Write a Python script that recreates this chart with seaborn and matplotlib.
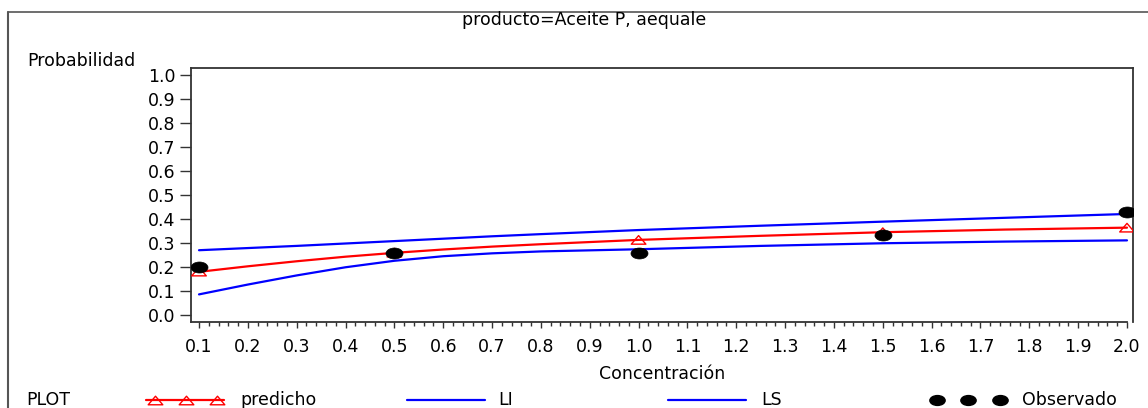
import numpy as np
import matplotlib
matplotlib.use("Agg")
import matplotlib.pyplot as plt
from matplotlib.lines import Line2D
from matplotlib.path import Path
from matplotlib.transforms import Affine2D
from matplotlib.ticker import MultipleLocator, FormatStrFormatter
import seaborn as sns

# === Datos ===
titulo = "producto=Aceite P, aequale"

conc_curva = [0.1, 0.2, 0.3, 0.4, 0.5, 0.6, 0.7, 0.8, 1.0, 1.25, 1.5, 1.75, 2.0]
predicho_curva = [0.180, 0.203, 0.224, 0.243, 0.259, 0.273, 0.285, 0.295, 0.313,
                  0.330, 0.345, 0.356, 0.364]
li_curva = [0.086, 0.127, 0.165, 0.199, 0.226, 0.245, 0.257, 0.265, 0.274,
            0.288, 0.299, 0.306, 0.311]
ls_curva = [0.270, 0.279, 0.288, 0.298, 0.308, 0.318, 0.328, 0.337, 0.354,
            0.372, 0.389, 0.405, 0.421]

conc_obs = [0.1, 0.5, 1.0, 1.5, 2.0]
predicho_pts = [0.181, 0.260, 0.313, 0.345, 0.364]
observado = [0.200, 0.260, 0.257, 0.333, 0.428]

y_ticks = [0.0, 0.1, 0.2, 0.3, 0.4, 0.5, 0.6, 0.7, 0.8, 0.9, 1.0]
x_ticks = [0.1, 0.2, 0.3, 0.4, 0.5, 0.6, 0.7, 0.8, 0.9, 1.0,
           1.1, 1.2, 1.3, 1.4, 1.5, 1.6, 1.7, 1.8, 1.9, 2.0]

# === Configuracion visual ===
sns.set_theme(style="white")
plt.rcParams['font.family'] = ['DejaVu Sans']
plt.rcParams['text.color'] = 'black'
FS = 12.5
W, H = 1148, 408

def fx(px):
    return px / W

def fy(py):
    return 1 - py / H

# marcadores "estirados" como en la salida SAS
tri = Path([(-1.7, -1), (1.7, -1), (0, 1), (-1.7, -1)],
           [Path.MOVETO, Path.LINETO, Path.LINETO, Path.CLOSEPOLY])
elipse = Path.unit_circle().transformed(Affine2D().scale(1.55, 1.0))

fig = plt.figure(figsize=(W / 100, H / 100), dpi=100)
ax = fig.add_axes([fx(191), fy(322), (1133 - 191) / W, (322 - 68) / H])

sns.lineplot(x=conc_curva, y=ls_curva, color="blue", lw=1.6, ax=ax)
sns.lineplot(x=conc_curva, y=li_curva, color="blue", lw=1.6, ax=ax)
sns.lineplot(x=conc_curva, y=predicho_curva, color="red", lw=1.6, ax=ax)
sns.scatterplot(x=conc_obs, y=predicho_pts, marker=tri, s=110, color="red",
                facecolors="none", edgecolor="red", linewidth=1, ax=ax, zorder=3)
sns.scatterplot(x=conc_obs, y=observado, marker=elipse, s=150, color="black",
                edgecolor="black", linewidth=0.5, ax=ax, zorder=4)

ax.set_xlim(0.0836, 2.0123)
ax.set_ylim(-0.029, 1.029)
ax.set_xticks(x_ticks)
ax.set_yticks(y_ticks)
ax.xaxis.set_major_formatter(FormatStrFormatter('%.1f'))
ax.yaxis.set_major_formatter(FormatStrFormatter('%.1f'))
ax.xaxis.set_minor_locator(MultipleLocator(0.02))

for s in ax.spines.values():
    s.set_visible(True)
    s.set_color("#333333")
    s.set_linewidth(1.3)
ax.spines['bottom'].set_bounds(0.0836, 2.0)

ax.tick_params(axis='y', which='major', left=True, direction='out', length=8,
               width=1, color="#333333", pad=3, labelsize=FS, labelcolor="black")
ax.tick_params(axis='x', which='major', bottom=True, direction='out', length=4.5,
               width=1, color="#333333", pad=7, labelsize=FS, labelcolor="black")
ax.tick_params(axis='x', which='minor', bottom=True, direction='out', length=3,
               width=1, color="#333333")

ax.set_xlabel("Concentración", fontsize=FS, color="black")
ax.xaxis.set_label_coords(0.5, -0.17)
ax.set_ylabel("Probabilidad", fontsize=FS, color="black", rotation=0,
              ha='left', va='center')
ax.yaxis.set_label_coords((27 - 191) / (1133 - 191), (322 - 61) / (322 - 68))

fig.text(fx(584), fy(20), titulo, ha='center', va='center', fontsize=FS, color="black")

# marco exterior
fig.add_artist(Line2D([fx(8), fx(8)], [0, fy(12)], transform=fig.transFigure,
                      color="#555555", lw=1.5))
fig.add_artist(Line2D([fx(8), 1], [fy(12), fy(12)], transform=fig.transFigure,
                      color="#555555", lw=1.2))

# === Leyenda (estilo SAS) ===
yl = fy(400)
fig.text(fx(26), yl, "PLOT", ha='left', va='center', fontsize=FS, color="black")
fig.add_artist(Line2D([fx(146), fx(224)], [yl, yl], transform=fig.transFigure,
                      color="red", lw=1.6))
fig.add_artist(Line2D([fx(155), fx(186), fx(217)], [yl] * 3, transform=fig.transFigure,
                      color="red", lw=0, marker=tri, markersize=10.5,
                      markerfacecolor="none", markeredgecolor="red", mew=1))
fig.text(fx(240), yl, "predicho", ha='left', va='center', fontsize=FS, color="black")
fig.add_artist(Line2D([fx(407), fx(485)], [yl, yl], transform=fig.transFigure,
                      color="blue", lw=1.6))
fig.text(fx(498), yl, "LI", ha='left', va='center', fontsize=FS, color="black")
fig.add_artist(Line2D([fx(668), fx(746)], [yl, yl], transform=fig.transFigure,
                      color="blue", lw=1.6))
fig.text(fx(761), yl, "LS", ha='left', va='center', fontsize=FS, color="black")
fig.add_artist(Line2D([fx(937), fx(968), fx(1000)], [yl] * 3, transform=fig.transFigure,
                      color="black", lw=0, marker=elipse, markersize=11,
                      markerfacecolor="black", markeredgecolor="black"))
fig.text(fx(1022), yl, "Observado", ha='left', va='center', fontsize=FS, color="black")

fig.savefig("out.png", dpi=100)
